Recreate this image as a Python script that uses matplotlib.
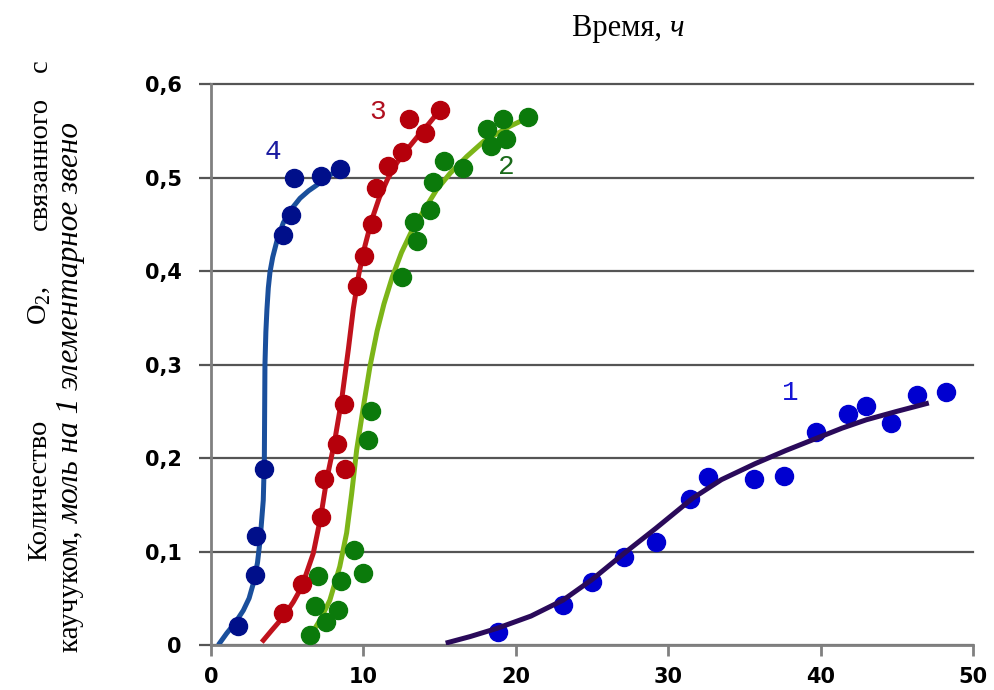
import matplotlib
matplotlib.use("Agg")
import matplotlib.pyplot as plt

plt.rcParams['mathtext.fontset'] = 'custom'
plt.rcParams['mathtext.rm'] = 'Liberation Serif'

# axis ticks
x_ticks = [0, 10, 20, 30, 40, 50]
y_ticks = [0, 0.1, 0.2, 0.3, 0.4, 0.5, 0.6]
y_tick_labels = ["0", "0,1", "0,2", "0,3", "0,4", "0,5", "0,6"]

# curve 1 - measured points
c1_x = [18.8, 23.1, 25.0, 27.1, 29.2, 31.4, 32.6, 35.6, 37.6, 39.7, 41.8, 43.0, 44.6, 46.3, 48.2]
c1_y = [0.014, 0.043, 0.067, 0.094, 0.110, 0.156, 0.180, 0.178, 0.181, 0.228, 0.247, 0.256, 0.238, 0.268, 0.271]
# curve 1 - trend line
c1_fit_x = [15.4, 17.0, 18.8, 21.0, 23.1, 25.0, 27.1, 29.2, 31.6, 33.5, 35.7, 37.7, 39.7, 41.4, 43.0, 45.0, 47.1]
c1_fit_y = [0.002, 0.009, 0.018, 0.031, 0.048, 0.070, 0.098, 0.125, 0.157, 0.177, 0.194, 0.208, 0.221, 0.232, 0.241, 0.250, 0.259]

# curve 2
c2_x = [6.5, 6.8, 7.0, 7.55, 8.35, 8.5, 9.4, 10.0, 10.3, 10.5, 12.5, 13.5, 13.3, 14.4, 14.55, 15.3, 16.55, 18.1, 18.35, 19.15, 19.35, 20.8]
c2_y = [0.011, 0.042, 0.074, 0.025, 0.037, 0.069, 0.102, 0.077, 0.219, 0.250, 0.394, 0.432, 0.453, 0.466, 0.495, 0.518, 0.510, 0.552, 0.534, 0.563, 0.541, 0.565]
c2_fit_x = [6.6, 7.2, 7.8, 8.45, 8.9, 9.23, 9.56, 10.0, 10.43, 10.9, 11.35, 11.9, 12.5, 13.2, 14.0, 14.8, 15.7, 16.8, 17.9, 19.6, 21.15]
c2_fit_y = [0.012, 0.028, 0.048, 0.084, 0.120, 0.162, 0.209, 0.255, 0.298, 0.336, 0.365, 0.394, 0.420, 0.444, 0.466, 0.487, 0.505, 0.523, 0.539, 0.555, 0.567]

# curve 3
c3_x = [4.75, 5.95, 7.2, 7.4, 8.25, 8.7, 8.8, 9.6, 10.05, 10.55, 10.85, 11.6, 12.5, 13.0, 14.05, 15.05]
c3_y = [0.034, 0.065, 0.137, 0.178, 0.215, 0.258, 0.188, 0.384, 0.416, 0.450, 0.489, 0.513, 0.528, 0.563, 0.548, 0.572]
c3_fit_x = [3.33, 4.0, 4.74, 5.4, 5.95, 6.71, 7.2, 7.59, 8.09, 8.57, 9.01, 9.34, 9.7, 10.1, 10.55, 11.05, 11.6, 12.2, 12.9, 13.6, 14.3, 14.9]
c3_fit_y = [0.003, 0.016, 0.030, 0.046, 0.062, 0.098, 0.137, 0.177, 0.216, 0.262, 0.316, 0.360, 0.397, 0.427, 0.455, 0.479, 0.499, 0.516, 0.531, 0.545, 0.558, 0.570]

# curve 4
c4_x = [1.75, 2.9, 2.95, 3.5, 4.7, 5.25, 5.45, 7.2, 8.45]
c4_y = [0.020, 0.075, 0.117, 0.188, 0.439, 0.460, 0.500, 0.502, 0.509]
c4_fit_x = [0.48, 1.03, 1.6, 2.12, 2.5, 2.78, 3.05, 3.22, 3.43, 3.50, 3.52, 3.54, 3.60, 3.67, 3.76, 3.87, 4.05, 4.35, 4.75, 5.3, 5.84, 6.4, 6.93, 7.81, 8.33]
c4_fit_y = [0.0, 0.0125, 0.024, 0.037, 0.050, 0.066, 0.088, 0.112, 0.155, 0.198, 0.25, 0.30, 0.335, 0.359, 0.382, 0.399, 0.415, 0.434, 0.452, 0.467, 0.478, 0.486, 0.492, 0.503, 0.508]

labels = ["1", "2", "3", "4"]
label_x = [38.0, 19.4, 10.95, 4.07]
label_y = [0.270, 0.511, 0.570, 0.528]

curves = [
    (c1_x, c1_y, c1_fit_x, c1_fit_y, '#0000d0', '#2a0a5a', '#1515d5'),
    (c2_x, c2_y, c2_fit_x, c2_fit_y, '#0b7a0b', '#7cb518', '#1a6a1a'),
    (c3_x, c3_y, c3_fit_x, c3_fit_y, '#b5000b', '#c0121c', '#b01020'),
    (c4_x, c4_y, c4_fit_x, c4_fit_y, '#000f8a', '#1a4f9c', '#1a1aa0'),
]

fig = plt.figure(figsize=(9.94, 6.9), dpi=100)
ax = fig.add_axes([211 / 994, 1 - 645 / 690, 762 / 994, 560.7 / 690])

for i, (px, py, fx, fy, mcol, lcol, tcol) in enumerate(curves):
    # line on top of the dots only for curve 1
    line_z = 4 if i == 0 else 2
    ax.plot(fx, fy, color=lcol, lw=3.6, solid_capstyle='butt',
            solid_joinstyle='round', zorder=line_z)
    ax.plot(px, py, 'o', color=mcol, ms=13, mec=mcol, zorder=3)
    ax.text(label_x[i], label_y[i], labels[i], color=tcol, fontsize=20,
            family='Liberation Mono', ha='center', va='center')

ax.set_xlim(0, 50)
ax.set_ylim(0, 0.6)
ax.set_xticks(x_ticks)
ax.set_xticklabels([str(v) for v in x_ticks])
ax.set_yticks(y_ticks)
ax.set_yticklabels(y_tick_labels)

ax.yaxis.grid(True, color='#555555', lw=1.6)
ax.xaxis.grid(False)
ax.set_axisbelow(True)
for gl in ax.get_ygridlines():
    gl.set_clip_on(False)

for side in ['top', 'right']:
    ax.spines[side].set_visible(False)
for side in ['left', 'bottom']:
    ax.spines[side].set_color('#808080')
    ax.spines[side].set_linewidth(2)

ax.tick_params(axis='y', length=9, width=1.6, color='#555555', pad=12)
ax.tick_params(axis='x', length=8, width=2, color='#808080', pad=8)
for lab in ax.get_xticklabels() + ax.get_yticklabels():
    lab.set_fontweight('bold')
    lab.set_fontsize(15)
    lab.set_family('DejaVu Sans')

serif = 'Liberation Serif'
fig.canvas.draw()
renderer = fig.canvas.get_renderer()


def put_pieces(x, y, pieces, rotation=0):
    """Write text pieces one after another, left-to-right or bottom-to-top."""
    pos = y if rotation else x
    for txt, style, size in pieces:
        if rotation:
            t = fig.text(x, pos, txt, rotation=90, ha='center', va='bottom',
                         fontsize=size, family=serif, style=style)
        else:
            t = fig.text(pos, y, txt, ha='left', va='baseline',
                         fontsize=size, family=serif, style=style)
        bb = t.get_window_extent(renderer)
        if rotation:
            pos += bb.height / fig.bbox.height
        else:
            pos += bb.width / fig.bbox.width


# title
put_pieces(572 / 994, 1 - 36 / 690, [("Время, ", 'normal', 22), ("ч", 'italic', 22)])

# y label, first line (indented) justified across the height
yl_size = 20.5
line1_x = 40 / 994
for txt, yc in [("Количество", 490), ("O$_2$,", 306), ("связанного", 163), ("с", 66)]:
    fig.text(line1_x, 1 - yc / 690, txt, rotation=90, ha='center', va='center',
             fontsize=yl_size, family=serif)

put_pieces(71 / 994, 1 - 652 / 690,
           [("каучуком, ", 'normal', 21),
            ("моль на 1 элементарное звено", 'italic', 22.5)],
           rotation=90)

fig.savefig("out.png", dpi=100)
